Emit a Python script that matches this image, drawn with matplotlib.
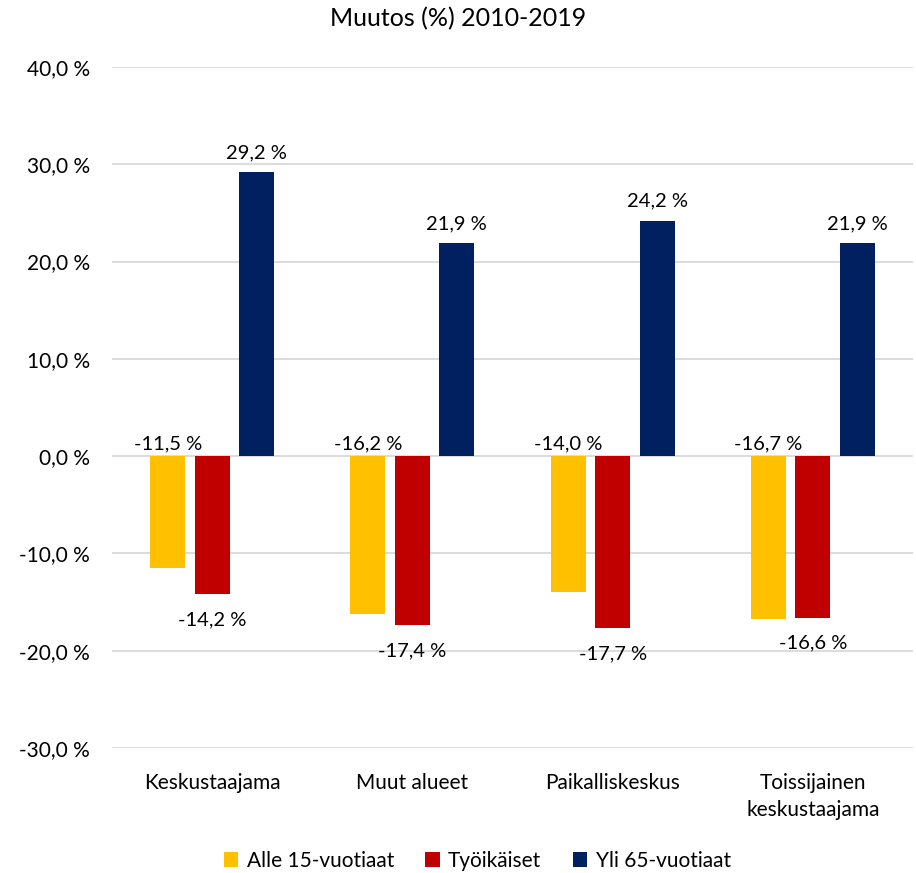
import numpy as np
import matplotlib.pyplot as plt

categories = ['Keskustaajama', 'Muut alueet', 'Paikalliskeskus', 'Toissijainen\nkeskustaajama']
series_names = ['Alle 15-vuotiaat', 'Työikäiset', 'Yli 65-vuotiaat']
alle15 = [-11.5, -16.2, -14.0, -16.7]
tyoikaiset = [-14.2, -17.4, -17.7, -16.6]
yli65 = [29.2, 21.9, 24.2, 21.9]
colors = ['#FFC000', '#C00000', '#002060']

plt.rcParams['font.family'] = ['Lato', 'DejaVu Sans']


def fmt(v):
    return f'{v:.1f} %'.replace('.', ',')


fig = plt.figure(figsize=(9.16, 8.73), dpi=100)
ax = fig.add_axes([0.1223, 0.1432, 0.8744, 0.7801])

x = np.arange(len(categories))
width = 0.175
offset = 0.222

b1 = ax.bar(x - offset, alle15, width, color=colors[0], label=series_names[0], zorder=3)
b2 = ax.bar(x, tyoikaiset, width, color=colors[1], label=series_names[1], zorder=3)
b3 = ax.bar(x + offset, yli65, width, color=colors[2], label=series_names[2], zorder=3)

# labels: yellow sits just above zero, red below bar end, blue above bar end
for xi, v in zip(x - offset, alle15):
    ax.annotate(fmt(v), (xi, 0), xytext=(0, 4), textcoords='offset pixels',
                ha='center', va='bottom', fontsize=14.5)
for xi, v in zip(x, tyoikaiset):
    ax.annotate(fmt(v), (xi, v), xytext=(0, -17), textcoords='offset pixels',
                ha='center', va='top', fontsize=14.5)
for xi, v in zip(x + offset, yli65):
    ax.annotate(fmt(v), (xi, v), xytext=(0, 11), textcoords='offset pixels',
                ha='center', va='bottom', fontsize=14.5)

ax.set_xlim(-0.5, 3.5)
ax.set_ylim(-30, 40)
ax.set_yticks(np.arange(-30, 41, 10))
ax.set_yticklabels([fmt(t) for t in np.arange(-30, 41, 10)], fontsize=15)
ax.set_xticks(x)
ax.set_xticklabels(categories, fontsize=15, linespacing=1.45)
ax.tick_params(axis='both', length=0)
ax.tick_params(axis='y', pad=16)
ax.tick_params(axis='x', pad=18)

ax.grid(axis='y', color='#D9D9D9', linewidth=1.3, zorder=0)
for s in ax.spines.values():
    s.set_visible(False)

fig.text(0.5, 0.979, 'Muutos (%) 2010-2019', ha='center', va='center', fontsize=18)

fig.legend(handles=[b1, b2, b3], loc='center', bbox_to_anchor=(0.521, 0.014),
           ncol=3, frameon=False, fontsize=15, handlelength=0.7, handleheight=0.7,
           handletextpad=0.4, columnspacing=1.5)

plt.savefig('out.png', dpi=100)
